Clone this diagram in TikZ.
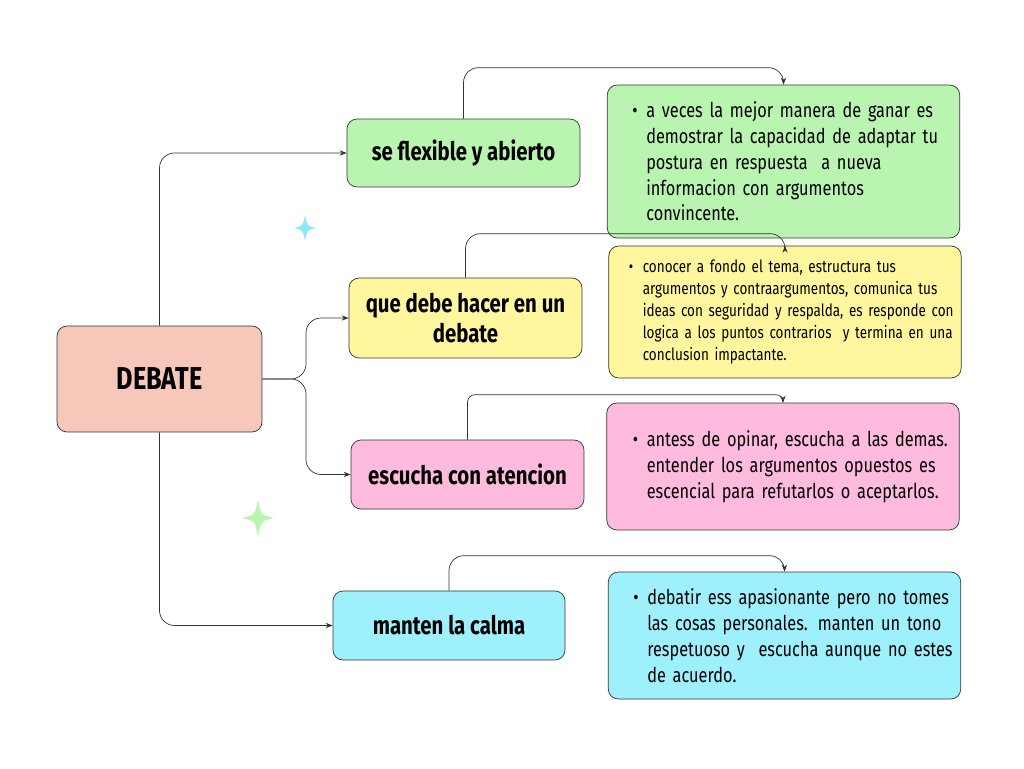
\documentclass[tikz,border=0pt]{standalone}
\usepackage{fontspec}
\setmainfont{Fira Sans}[FakeStretch=0.8]
\usepackage{tikz}
\usetikzlibrary{arrows.meta, positioning, calc}
\definecolor{MintGreen}{HTML}{B9F5B0}
\definecolor{SoftYellow}{HTML}{FFF69D}
\definecolor{SoftPink}{HTML}{FEBBDD}
\definecolor{SkyCyan}{HTML}{9EF0FC}
\definecolor{Salmon}{HTML}{F7C7BA}
\definecolor{StarCyan}{HTML}{8AE8F8}
\definecolor{EdgeGray}{HTML}{333333}
% bullet with hanging lines: #1 = lead space, #2 = lines
\newcommand\bitem[2]{\hspace*{#1}\makebox[0.28cm][l]{\textbullet}\parbox[t]{\dimexpr\hsize-#1-0.28cm\relax}{\raggedright #2}}
\tikzset{
  % Box styles
  rootbox/.style={rectangle, rounded corners=0.2cm, draw=EdgeGray, fill=Salmon, minimum width=4.1cm, minimum height=2.12cm, font=\fontsize{18}{21}\selectfont\bfseries},
  topicbox/.style={rectangle, rounded corners=0.2cm, draw=EdgeGray, minimum width=4.66cm, minimum height=1.38cm, align=center, font=\fontsize{14.5}{17.5}\selectfont\bfseries},
  notebox/.style={rectangle, rounded corners=0.2cm, draw=EdgeGray, minimum width=7.05cm, minimum height=2.54cm, inner xsep=0.1cm, text width=6.85cm, align=left, font=\fontsize{11.6}{14.7}\selectfont},
  % Arrow styles
  conn/.style={-{Stealth[length=4pt,width=3pt]}, thin, EdgeGray, rounded corners=0.3cm},
}

\begin{document}
\begin{tikzpicture}[x=0.02cm, y=-0.02cm]
  \useasboundingbox (0,0) rectangle (1024,768);

  % Root
  \node[rootbox] (debate) at (159.5,379) {DEBATE};

  % Topics
  \node[topicbox, fill=MintGreen, minimum height=1.36cm] (flex) at (463.5,153) {se flexible y abierto};
  \node[topicbox, fill=SoftYellow, minimum height=1.6cm] (hacer) at (465.5,318) {que debe hacer en un\\debate};
  \node[topicbox, fill=SoftPink] (escucha) at (467.5,474.5) {escucha con atencion};
  \node[topicbox, fill=SkyCyan, minimum width=4.64cm] (calma) at (449,625.5) {manten la calma};

  % Notes
  \node[notebox, fill=MintGreen, minimum height=3.06cm] (nflex) at (783.5,161.5)
    {\bitem{0.4cm}{a veces la mejor manera de ganar es\\demostrar la capacidad de adaptar tu\\postura en respuesta~ a nueva\\informacion con argumentos\\convincente.}};
  \node[notebox, fill=SoftYellow, minimum height=2.64cm, font=\fontsize{9.6}{12.5}\selectfont] (nhacer) at (785,312)
    {\bitem{0.3cm}{conocer a fondo el tema, estructura tus\\argumentos y contraargumentos, comunica tus\\ideas con seguridad y respalda, es responde con\\logica a los puntos contrarios~ y termina en una\\conclusion impactante.}};
  \node[notebox, fill=SoftPink] (nescucha) at (783,466.5)
    {\bitem{0.42cm}{antess de opinar, escucha a las demas.\\entender los argumentos opuestos es\\escencial para refutarlos o aceptarlos.}};
  \node[notebox, fill=SkyCyan] (ncalma) at (784.5,635.5)
    {\bitem{0.4cm}{debatir ess apasionante pero no tomes\\las cosas personales. manten un tono\\respetuoso y~ escucha aunque no estes\\de acuerdo.}};

  % Root to topics
  \coordinate (fork) at (306,379);
  \draw[conn] (debate.north) |- (flex.west);
  \draw[conn] (debate.south) |- (calma.west);
  \draw[conn] (debate.east) -- (fork) |- (hacer.west);
  \draw[conn] (debate.east) -- (fork) |- (escucha.west);

  % Topics to notes
  \draw[conn] (flex.north) |- ([yshift=0.34cm]nflex.north) -- (nflex.north);
  \draw[conn] (hacer.north) |- ([yshift=0.24cm]nhacer.north) -- (nhacer.north);
  \draw[conn, rounded corners=0.15cm] (escucha.north) |- ([yshift=0.16cm]nescucha.north) -- (nescucha.north);
  \draw[conn] (calma.north) |- ([yshift=0.32cm]ncalma.north) -- (ncalma.north);

  % Sparkles
  \fill[StarCyan] (305,215) .. controls (307,226) .. (316,228) .. controls (307,230) .. (305,241)
    .. controls (303,230) .. (294,228) .. controls (303,226) .. cycle;
  \fill[MintGreen] (258,500) .. controls (261,515) .. (274,518) .. controls (261,521) .. (258,537)
    .. controls (255,521) .. (242,518) .. controls (255,515) .. cycle;
\end{tikzpicture}
\end{document}
